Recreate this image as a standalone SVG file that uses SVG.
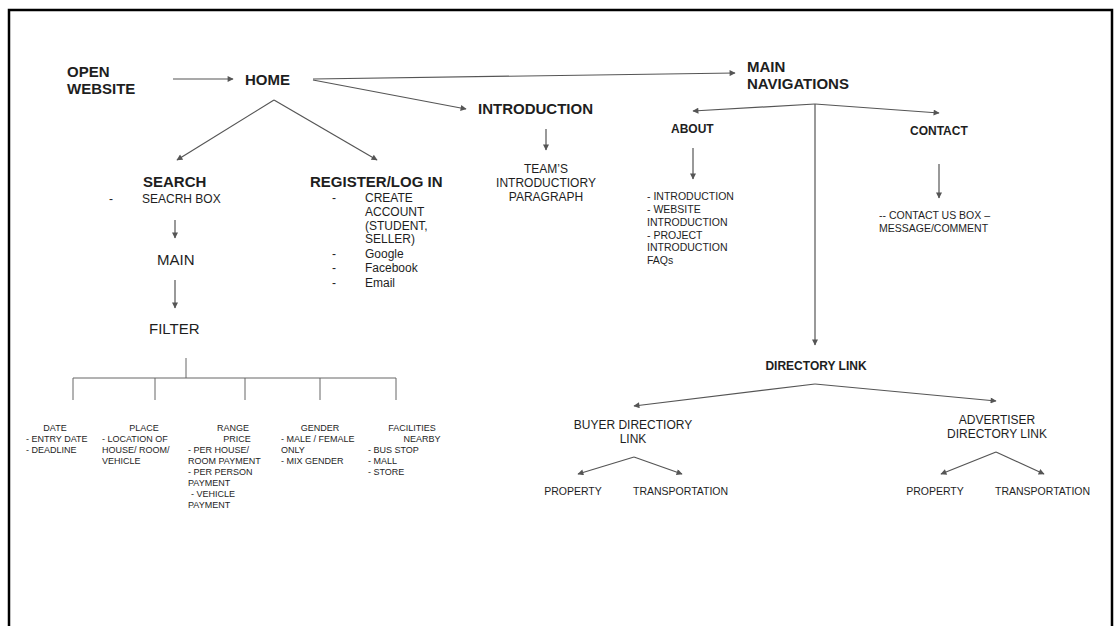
<svg xmlns="http://www.w3.org/2000/svg" width="1114" height="626" viewBox="0 0 1114 626">
<defs>
<marker id="ah" viewBox="0 0 10 10" refX="9" refY="5" markerWidth="7" markerHeight="6" markerUnits="userSpaceOnUse" orient="auto">
<path d="M0,0 L10,5 L0,10 z" fill="#555"/>
</marker>
<style>
text{font-family:"Liberation Sans",Arial,sans-serif;fill:#1e1e1e}
.b15{font-size:15px;font-weight:bold}
.b12{font-size:12px;font-weight:bold}
.r15{font-size:15px}
.r12{font-size:12px}
.r10{font-size:10.5px}
.r9{font-size:9px}
.c{text-anchor:middle}
.ln{stroke:#555;stroke-width:1.2;fill:none}
.ar{stroke:#555;stroke-width:1.2;fill:none;marker-end:url(#ah)}
.tr{stroke:#666;stroke-width:1;fill:none}
</style>
</defs>
<rect x="0" y="0" width="1114" height="626" fill="#fff"/>
<path d="M9,640 L9,10 L1112,10 L1112,640" fill="none" stroke="#000" stroke-width="2.5"/>

<g id="connectors">
<line class="ar" x1="173" y1="79" x2="233" y2="79"/>
<line class="ar" x1="313" y1="79" x2="735" y2="73"/>
<line class="ar" x1="313" y1="80" x2="466" y2="109"/>
<line class="ar" x1="274" y1="100" x2="177" y2="160"/>
<line class="ar" x1="274" y1="100" x2="377" y2="160"/>
<line class="ar" x1="546" y1="129" x2="546" y2="150"/>
<line class="ar" x1="175" y1="220" x2="175" y2="238"/>
<line class="ar" x1="175" y1="280" x2="175" y2="308"/>
<path class="tr" d="M186,358 V378 M73,378 H396 M73,378 V400 M155,378 V400 M245,378 V400 M320,378 V400 M396,378 V400"/>
<line class="ar" x1="815" y1="104" x2="693" y2="111"/>
<line class="ar" x1="815" y1="104" x2="939" y2="113"/>
<line class="ar" x1="815" y1="104" x2="815" y2="345"/>
<line class="ar" x1="693" y1="148" x2="693" y2="179"/>
<line class="ar" x1="939" y1="164" x2="939" y2="198"/>
<line class="ar" x1="815" y1="384" x2="634" y2="406"/>
<line class="ar" x1="815" y1="384" x2="996" y2="401"/>
<line class="ar" x1="634" y1="457" x2="578" y2="474"/>
<line class="ar" x1="634" y1="457" x2="682" y2="474"/>
<line class="ar" x1="996" y1="452" x2="941" y2="474"/>
<line class="ar" x1="996" y1="452" x2="1044" y2="474"/>
</g>

<g id="open-website">
<text class="b15" x="67" y="77">OPEN</text>
<text class="b15" x="67" y="94">WEBSITE</text>
</g>
<g id="home"><text class="b15" x="245" y="85">HOME</text></g>
<g id="introduction"><text class="b15" x="478" y="114">INTRODUCTION</text></g>
<g id="team-paragraph">
<text class="r12 c" x="546" y="173">TEAM’S</text>
<text class="r12 c" x="546" y="187">INTRODUCTIORY</text>
<text class="r12 c" x="546" y="201">PARAGRAPH</text>
</g>
<g id="main-navigations">
<text class="b15" x="747" y="72">MAIN</text>
<text class="b15" x="747" y="89">NAVIGATIONS</text>
</g>

<g id="search">
<text class="b15" x="143" y="187">SEARCH</text>
<text class="r12" x="109" y="203">-</text>
<text class="r12" x="142" y="203">SEACRH BOX</text>
</g>
<g id="main"><text class="r15" x="157" y="265">MAIN</text></g>
<g id="filter"><text class="r15" x="149" y="334">FILTER</text></g>

<g id="register">
<text class="b15" x="310" y="187">REGISTER/LOG IN</text>
<text class="r12" x="332" y="202">-</text>
<text class="r12" x="365" y="202">CREATE</text>
<text class="r12" x="365" y="216">ACCOUNT</text>
<text class="r12" x="365" y="230">(STUDENT,</text>
<text class="r12" x="365" y="243">SELLER)</text>
<text class="r12" x="332" y="258">-</text>
<text class="r12" x="365" y="258">Google</text>
<text class="r12" x="332" y="272">-</text>
<text class="r12" x="365" y="272">Facebook</text>
<text class="r12" x="332" y="287">-</text>
<text class="r12" x="365" y="287">Email</text>
</g>

<g id="f-date">
<text class="r9 c" x="55" y="431">DATE</text>
<text class="r9" x="26" y="442">- ENTRY DATE</text>
<text class="r9" x="26" y="453">- DEADLINE</text>
</g>
<g id="f-place">
<text class="r9 c" x="144" y="431">PLACE</text>
<text class="r9" x="102" y="442">- LOCATION OF</text>
<text class="r9" x="102" y="453">HOUSE/ ROOM/</text>
<text class="r9" x="102" y="464">VEHICLE</text>
</g>
<g id="f-range">
<text class="r9 c" x="233" y="431">RANGE</text>
<text class="r9 c" x="237" y="442">PRICE</text>
<text class="r9" x="188" y="453">- PER HOUSE/</text>
<text class="r9" x="188" y="464">ROOM PAYMENT</text>
<text class="r9" x="188" y="475">- PER PERSON</text>
<text class="r9" x="188" y="486">PAYMENT</text>
<text class="r9" x="191" y="497">- VEHICLE</text>
<text class="r9" x="188" y="508">PAYMENT</text>
</g>
<g id="f-gender">
<text class="r9 c" x="320" y="431">GENDER</text>
<text class="r9" x="281" y="442">- MALE / FEMALE</text>
<text class="r9" x="281" y="453">ONLY</text>
<text class="r9" x="281" y="464">- MIX GENDER</text>
</g>
<g id="f-facilities">
<text class="r9 c" x="412" y="431">FACILITIES</text>
<text class="r9 c" x="422" y="442">NEARBY</text>
<text class="r9" x="368" y="453">- BUS STOP</text>
<text class="r9" x="368" y="464">- MALL</text>
<text class="r9" x="368" y="475">- STORE</text>
</g>

<g id="about">
<text class="b12" x="671" y="133">ABOUT</text>
</g>
<g id="about-list">
<text class="r10" x="647" y="200">- INTRODUCTION</text>
<text class="r10" x="647" y="213">- WEBSITE</text>
<text class="r10" x="647" y="226">INTRODUCTION</text>
<text class="r10" x="647" y="239">- PROJECT</text>
<text class="r10" x="647" y="251">INTRODUCTION</text>
<text class="r10" x="647" y="264">FAQs</text>
</g>
<g id="contact"><text class="b12" x="910" y="135">CONTACT</text></g>
<g id="contact-box">
<text class="r10" x="879" y="219">-- CONTACT US BOX –</text>
<text class="r10" x="879" y="232">MESSAGE/COMMENT</text>
</g>

<g id="directory-link"><text class="b12 c" x="816" y="370">DIRECTORY LINK</text></g>
<g id="buyer-directory">
<text class="r12 c" x="633" y="429">BUYER DIRECTIORY</text>
<text class="r12 c" x="633" y="443">LINK</text>
</g>
<g id="advertiser-directory">
<text class="r12 c" x="997" y="424">ADVERTISER</text>
<text class="r12 c" x="997" y="438">DIRECTORY LINK</text>
</g>
<g id="buyer-property"><text class="r10 c" x="573" y="495">PROPERTY</text></g>
<g id="buyer-transport"><text class="r10" x="633" y="495">TRANSPORTATION</text></g>
<g id="adv-property"><text class="r10 c" x="935" y="495">PROPERTY</text></g>
<g id="adv-transport"><text class="r10" x="995" y="495">TRANSPORTATION</text></g>
</svg>
